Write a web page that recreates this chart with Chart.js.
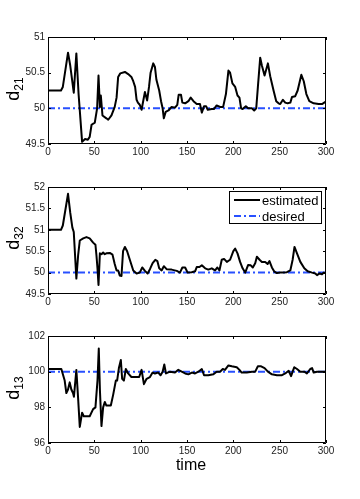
<!DOCTYPE html>
<html>
<head>
<meta charset="utf-8">
<script src="https://cdn.jsdelivr.net/npm/chart.js@4"></script>
<style>
  body { margin: 0; background: #fff; }
  #wrap { position: relative; width: 360px; height: 499px; font-family: "Liberation Sans", Arial, sans-serif; }
  canvas { position: absolute; left: 0; }
  .ylab { position: absolute; font-size: 18px; color: #000; transform: translate(-50%, -50%) rotate(-90deg); white-space: nowrap; line-height: 1; }
  .ylab sub { font-size: 12px; vertical-align: -4px; }
  #xlab { position: absolute; left: 191px; top: 456px; transform: translateX(-50%); font-size: 16px; color: #000; }
</style>
</head>
<body>
<div id="wrap">
  <canvas id="c1" width="360" height="160" style="top:0px"></canvas>
  <canvas id="c2" width="360" height="160" style="top:150px"></canvas>
  <canvas id="c3" width="360" height="160" style="top:299px"></canvas>
  <div class="ylab" style="left:14px; top:89px">d<sub>21</sub></div>
  <div class="ylab" style="left:14px; top:238px">d<sub>32</sub></div>
  <div class="ylab" style="left:14px; top:388px">d<sub>13</sub></div>
  <div id="xlab">time</div>
</div>
<script>
// time stamps and estimated values
const t21 = [0, 14, 16, 21.6, 24, 27.8, 30.6, 33, 36.8, 40, 43, 45, 47, 50.5, 53, 54.5, 56, 57, 58.8, 63, 65, 68.5, 72, 74, 75.7, 78, 83, 86.5, 90, 92, 94, 95.6, 97, 99, 101, 103, 104.6, 107, 109, 110.7, 113.6, 115.4, 117, 120, 122, 123.7, 125, 127, 130, 133.4, 137, 139.5, 141, 143.5, 145, 148, 151.5, 154, 157, 160.5, 164, 166, 168.4, 170.6, 172.4, 176.7, 179, 182, 185.7, 189, 192, 194.7, 196.5, 199, 202, 204.5, 206.6, 208.4, 210, 213.5, 216, 220, 222.5, 224.7, 226.5, 229, 230.8, 233.7, 237.3, 239.8, 243.4, 246.3, 248.8, 250.6, 253.5, 256, 258.6, 261.5, 263.3, 266.8, 269.4, 273.4, 276, 278.8, 282, 286.7, 292, 295.7, 299.3];
const d21 = [50.25, 50.25, 50.3, 50.78, 50.6, 50.22, 50.77, 50.2, 49.53, 49.57, 49.56, 49.6, 49.77, 49.8, 50.0, 50.46, 50.02, 50.18, 49.9, 49.86, 49.84, 49.9, 50.02, 50.15, 50.44, 50.49, 50.51, 50.48, 50.44, 50.38, 50.3, 50.12, 50.08, 50.05, 49.98, 50.12, 50.23, 50.11, 50.3, 50.5, 50.63, 50.58, 50.4, 50.25, 50.1, 50.0, 49.86, 49.95, 49.97, 50.02, 50.01, 50.05, 50.19, 50.19, 50.08, 50.07, 50.1, 50.15, 50.1, 50.06, 50.06, 49.94, 50.03, 50.03, 49.98, 49.99, 49.99, 50.04, 50.02, 50.02, 50.2, 50.53, 50.5, 50.35, 50.3, 50.18, 50.15, 50.0, 49.99, 50.03, 50.0, 50.0, 49.97, 50.0, 50.3, 50.71, 50.6, 50.46, 50.63, 50.45, 50.25, 50.1, 50.07, 50.06, 50.12, 50.08, 50.07, 50.08, 50.16, 50.17, 50.25, 50.47, 50.38, 50.2, 50.1, 50.07, 50.06, 50.06, 50.09];

const t32 = [0, 14, 16, 21.6, 24, 26.3, 27.8, 30.6, 32.5, 34.3, 38, 41.5, 45, 48.7, 51.2, 52.3, 53.4, 54.5, 56, 57.7, 59.5, 61.3, 63, 66.7, 69.6, 72, 74, 75.7, 77.5, 79.3, 81, 83, 85.4, 88.3, 92, 95.6, 99, 101.7, 104.6, 107.5, 110, 112.9, 115.8, 118, 120, 122.6, 125, 128, 133.4, 139, 142.4, 145, 148, 150.7, 155, 158.7, 160.5, 163.4, 166, 169.6, 173, 176.7, 180.3, 182.8, 185, 187.5, 190, 193, 196.5, 200, 202, 204.5, 207.3, 210, 212.8, 216, 218.8, 221, 223.6, 225.4, 228.3, 230.8, 234.4, 237, 239, 241.6, 244, 247, 250.6, 254.3, 257.8, 261.5, 264, 266, 268.7, 272.3, 276.6, 280.2, 285, 288.5, 290.3, 293.2, 295.7, 297.5, 299.3];
const d32 = [51.0, 51.0, 51.1, 51.84, 51.4, 51.05, 50.95, 49.86, 50.4, 50.75, 50.8, 50.83, 50.8, 50.7, 50.65, 50.4, 50.1, 49.71, 50.45, 50.43, 50.47, 50.43, 50.45, 50.46, 50.42, 50.2, 50.05, 50.05, 49.93, 49.92, 50.5, 50.6, 50.5, 50.3, 50.05, 49.98, 50.0, 50.12, 50.04, 49.98, 50.08, 50.22, 50.3, 50.27, 50.1, 50.05, 50.15, 50.08, 50.07, 50.04, 50.0, 50.12, 50.12, 50.0, 50.01, 50.03, 50.13, 50.13, 50.17, 50.1, 50.07, 50.1, 50.05, 50.12, 50.05, 50.3, 50.32, 50.25, 50.3, 50.5, 50.56, 50.45, 50.25, 50.1, 50.0, 50.18, 50.17, 50.12, 50.22, 50.37, 50.3, 50.25, 50.25, 50.2, 50.27, 50.12, 50.03, 49.99, 50.0, 50.0, 50.01, 50.05, 50.3, 50.6, 50.45, 50.25, 50.1, 50.03, 50.0, 49.98, 49.94, 49.98, 49.96, 50.0, 49.99];

const t13 = [0, 14.4, 18, 19.8, 21.6, 23.4, 25.2, 27, 28, 30.6, 32.5, 34.3, 36.8, 38.6, 45, 48.7, 51.2, 53.4, 54.8, 56, 57.7, 59.5, 61.3, 63, 67.8, 70.3, 73.2, 74.6, 76.5, 78.6, 80, 81.9, 84, 86.5, 90, 95.6, 98.4, 101, 103.5, 106.4, 110, 112.9, 115.4, 119, 121.5, 123.7, 125.5, 127.3, 131.6, 137, 140.6, 144.3, 148, 151.5, 155.3, 158.7, 162.3, 166, 168.4, 173, 178.5, 182, 185.7, 188.6, 191, 194.7, 198.3, 203.7, 206.6, 209, 214.5, 220, 223.6, 226.5, 230, 233.7, 237.3, 241.6, 247, 252.5, 256, 259.7, 262.3, 264, 265.8, 268.7, 272.3, 276.6, 279.4, 283, 285, 286.7, 290.3, 294, 299.3];
const d13 = [100.15, 100.15, 99.5, 98.8, 99.0, 99.4, 99.0, 98.8, 98.6, 100.1, 98.5, 96.9, 97.7, 97.5, 97.5, 97.9, 98.0, 99.5, 101.3, 99.0, 96.95, 98.0, 98.3, 98.1, 98.1, 98.7, 99.5, 99.5, 100.2, 100.65, 99.6, 99.5, 100.15, 99.9, 99.7, 99.7, 99.7, 100.1, 99.3, 99.6, 99.7, 99.95, 99.9, 99.95, 99.8, 100.0, 100.4, 99.9, 100.0, 99.95, 100.1, 100.0, 99.9, 99.85, 99.95, 99.9, 100.0, 100.15, 99.8, 99.8, 99.85, 100.0, 100.0, 100.15, 100.1, 100.35, 100.3, 100.25, 100.1, 99.95, 99.95, 100.0, 100.0, 100.3, 100.3, 100.2, 100.0, 99.85, 99.8, 99.8, 99.9, 100.05, 99.75, 100.0, 100.25, 100.15, 100.0, 100.0, 99.9, 100.15, 100.2, 99.95, 100.0, 100.0, 100.0];

// desired reference levels
const desired21 = 50;
const desired32 = 50;
const desired13 = 100;

const xTicks = [0, 50, 100, 150, 200, 250, 300];
const yTicks21 = [49.5, 50, 50.5, 51];
const yTicks32 = [49.5, 50, 50.5, 51, 51.5, 52];
const yTicks13 = [96, 98, 100, 102];

const legendLabels = ['estimated', 'desired'];

const BLUE = '#2850ff';
const DASH = [7, 3, 2, 3];
const tickFont = { family: '"Liberation Sans", Arial, sans-serif', size: 10 };

// box round the plot with MATLAB style inward ticks
const boxPlugin = {
  id: 'box',
  afterDraw(chart) {
    const ctx = chart.ctx;
    const a = chart.chartArea;
    const xs = chart.scales.x, ys = chart.scales.y;
    ctx.save();
    ctx.strokeStyle = '#000';
    ctx.lineWidth = 1;
    ctx.beginPath();
    ctx.rect(a.left + 0.5, a.top + 0.5, a.right - a.left - 1, a.bottom - a.top - 1);
    xs.ticks.forEach(tk => {
      const px = Math.round(xs.getPixelForValue(tk.value)) + 0.5;
      ctx.moveTo(px, a.bottom); ctx.lineTo(px, a.bottom - 3);
      ctx.moveTo(px, a.top); ctx.lineTo(px, a.top + 3);
    });
    ys.ticks.forEach(tk => {
      const py = Math.round(ys.getPixelForValue(tk.value)) + 0.5;
      ctx.moveTo(a.left, py); ctx.lineTo(a.left + 3, py);
      ctx.moveTo(a.right, py); ctx.lineTo(a.right - 3, py);
    });
    ctx.stroke();
    ctx.restore();
  }
};

// legend box drawn inside the middle plot
const legendBox = {
  id: 'legendBox',
  afterDraw(chart, args, opts) {
    if (!opts.show) return;
    const ctx = chart.ctx;
    const a = chart.chartArea;
    const x0 = a.right - 97, y0 = a.top + 4, w = 93, h = 33;
    ctx.save();
    ctx.fillStyle = '#fff';
    ctx.fillRect(x0, y0, w, h);
    ctx.strokeStyle = '#000';
    ctx.lineWidth = 1;
    ctx.strokeRect(x0 + 0.5, y0 + 0.5, w - 1, h - 1);
    ctx.font = '13px "Liberation Sans", Arial, sans-serif';
    ctx.textBaseline = 'middle';
    ctx.fillStyle = '#000';
    const rows = [y0 + 9, y0 + 25];
    chart.data.datasets.forEach((ds, i) => {
      ctx.beginPath();
      ctx.strokeStyle = ds.borderColor;
      ctx.lineWidth = ds.borderWidth;
      ctx.setLineDash(ds.borderDash || []);
      ctx.moveTo(x0 + 5, rows[i]);
      ctx.lineTo(x0 + 31, rows[i]);
      ctx.stroke();
      ctx.setLineDash([]);
      ctx.fillText(legendLabels[i], x0 + 33, rows[i] + 1);
    });
    ctx.restore();
  }
};

function makeChart(id, times, values, target, yTicks, showLegend) {
  const est = times.map((t, i) => ({ x: t, y: values[i] }));
  const des = [{ x: 0, y: target }, { x: 300, y: target }];
  return new Chart(document.getElementById(id), {
    type: 'line',
    data: {
      datasets: [
        { label: legendLabels[0], data: est, borderColor: '#000', borderWidth: 2, pointRadius: 0, tension: 0, borderJoinStyle: 'round' },
        { label: legendLabels[1], data: des, borderColor: BLUE, borderWidth: 2, borderDash: DASH, pointRadius: 0 }
      ]
    },
    options: {
      responsive: false,
      animation: false,
      layout: { padding: { left: 0, right: 34, top: 37, bottom: 0 } },
      plugins: { legend: { display: false }, tooltip: { enabled: false }, legendBox: { show: showLegend } },
      scales: {
        x: {
          type: 'linear', min: 0, max: 300,
          afterBuildTicks: s => { s.ticks = xTicks.map(v => ({ value: v })); },
          afterFit: s => { s.height = 16; },
          grid: { display: false, drawTicks: false, tickLength: 0 }, border: { display: false },
          ticks: { font: tickFont, color: '#222', padding: 2, maxRotation: 0, callback: v => String(v) }
        },
        y: {
          min: yTicks[0], max: yTicks[yTicks.length - 1],
          afterBuildTicks: s => { s.ticks = yTicks.map(v => ({ value: v })); },
          afterFit: s => { s.width = 48; },
          grid: { display: false, drawTicks: false, tickLength: 0 }, border: { display: false },
          ticks: { font: tickFont, color: '#222', padding: 3, callback: v => String(v) }
        }
      }
    },
    plugins: [boxPlugin, legendBox]
  });
}

makeChart('c1', t21, d21, desired21, yTicks21, false);
makeChart('c2', t32, d32, desired32, yTicks32, true);
makeChart('c3', t13, d13, desired13, yTicks13, false);
</script>
</body>
</html>
